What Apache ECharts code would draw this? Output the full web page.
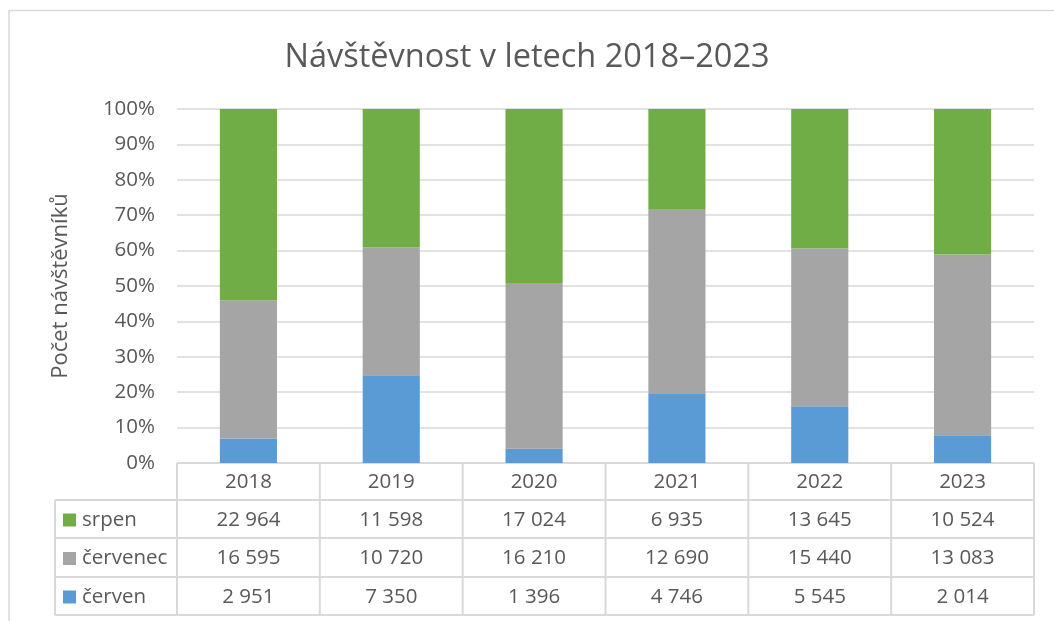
<!DOCTYPE html>
<html>
<head>
<meta charset="utf-8">
<script src="https://cdn.jsdelivr.net/npm/echarts@6/dist/echarts.min.js"></script>
<style>
html,body{margin:0;padding:0;background:#fff;}
#chart{width:1054px;height:621px;}
</style>
</head>
<body>
<div id="chart"></div>
<script>
const years = ['2018', '2019', '2020', '2021', '2022', '2023'];
const srpen = [22964, 11598, 17024, 6935, 13645, 10524];
const cervenec = [16595, 10720, 16210, 12690, 15440, 13083];
const cerven = [2951, 7350, 1396, 4746, 5545, 2014];
const yTicks = [0, 10, 20, 30, 40, 50, 60, 70, 80, 90, 100];

const seriesDefs = [
  { name: 'červen', data: cerven, color: '#5b9bd5' },
  { name: 'červenec', data: cervenec, color: '#a5a5a5' },
  { name: 'srpen', data: srpen, color: '#70ad47' }
];
const tableRows = [seriesDefs[2], seriesDefs[1], seriesDefs[0]];

const totals = years.map((_, i) => cerven[i] + cervenec[i] + srpen[i]);
const pct = arr => arr.map((v, i) => v / totals[i] * 100);
const fmt = v => String(v).replace(/\B(?=(\d{3})+(?!\d))/g, ' ');

const FONT = 'Open Sans';
const TXT = '#595959';
const LINE = '#d9d9d9';

const GRID = { left: 177, right: 20, top: 109, bottom: 158 };
const ROW_H = [37, 38, 39, 38];

const chart = echarts.init(document.getElementById('chart'));
const option = {
  backgroundColor: '#fff',
  animation: false,
  textStyle: { fontFamily: FONT },
  title: {
    text: 'Návštěvnost v letech 2018–2023',
    left: 'center', top: 36,
    textStyle: { fontFamily: FONT, fontSize: 32.5, fontWeight: 'normal', color: TXT }
  },
  grid: GRID,
  xAxis: {
    type: 'category', data: years,
    axisLine: { show: false }, axisTick: { show: false }, axisLabel: { show: false }
  },
  yAxis: {
    type: 'value', min: yTicks[0], max: yTicks[yTicks.length - 1], interval: 10,
    name: 'Počet návštěvníků', nameLocation: 'middle', nameGap: 105,
    nameTextStyle: { fontFamily: FONT, fontSize: 22, color: TXT },
    axisLabel: { formatter: '{value}%', fontFamily: FONT, fontSize: 20.5, color: TXT, margin: 22 },
    splitLine: { lineStyle: { color: LINE, width: 1.5 } },
    axisLine: { show: false }, axisTick: { show: false }
  },
  series: seriesDefs.map(s => ({
    name: s.name, type: 'bar', stack: 'total', barWidth: '40%',
    data: pct(s.data), itemStyle: { color: s.color }
  }))
};
chart.setOption(option);

function buildTable() {
  const els = [];
  els.push({ type: 'rect', shape: { x: 9, y: 10.5, width: 1100, height: 700 },
    style: { fill: 'none', stroke: '#d9d9d9', lineWidth: 1.5 }, silent: true });
  const W = chart.getWidth();
  const x0 = GRID.left, x1 = W - GRID.right;
  const bw = (x1 - x0) / years.length;
  const yTop = chart.getHeight() - GRID.bottom;
  const rowY = [yTop];
  ROW_H.forEach(h => rowY.push(rowY[rowY.length - 1] + h));
  const legendLeft = 55;
  const stroke = { stroke: LINE, lineWidth: 2 };
  els.push({ type: 'line', shape: { x1: x0, y1: rowY[0], x2: x1, y2: rowY[0] }, style: stroke });
  for (let r = 1; r < rowY.length; r++) {
    els.push({ type: 'line', shape: { x1: legendLeft, y1: rowY[r], x2: x1, y2: rowY[r] }, style: stroke });
  }
  els.push({ type: 'line', shape: { x1: legendLeft, y1: rowY[1], x2: legendLeft, y2: rowY[4] }, style: stroke });
  for (let c = 0; c <= years.length; c++) {
    const x = x0 + c * bw;
    els.push({ type: 'line', shape: { x1: x, y1: rowY[0], x2: x, y2: rowY[4] }, style: stroke });
  }
  const textEl = (t, x, y, align) => ({
    type: 'text', x, y,
    style: { text: t, fill: TXT, font: '20.5px "' + FONT + '"', align: align || 'center', verticalAlign: 'middle' }
  });
  years.forEach((yr, c) => {
    const cx = chart.convertToPixel({ xAxisIndex: 0 }, yr);
    els.push(textEl(yr, cx, (rowY[0] + rowY[1]) / 2 + 1));
    tableRows.forEach((s, r) => {
      els.push(textEl(fmt(s.data[c]), cx, (rowY[r + 1] + rowY[r + 2]) / 2 + 1));
    });
  });
  tableRows.forEach((s, r) => {
    const cy = (rowY[r + 1] + rowY[r + 2]) / 2 + 1;
    els.push({ type: 'rect', shape: { x: 63, y: cy - 6.5, width: 13, height: 13 }, style: { fill: s.color } });
    els.push(textEl(s.name, 82, cy, 'left'));
  });
  chart.setOption({ graphic: { elements: els } });
}
buildTable();
</script>
</body>
</html>
